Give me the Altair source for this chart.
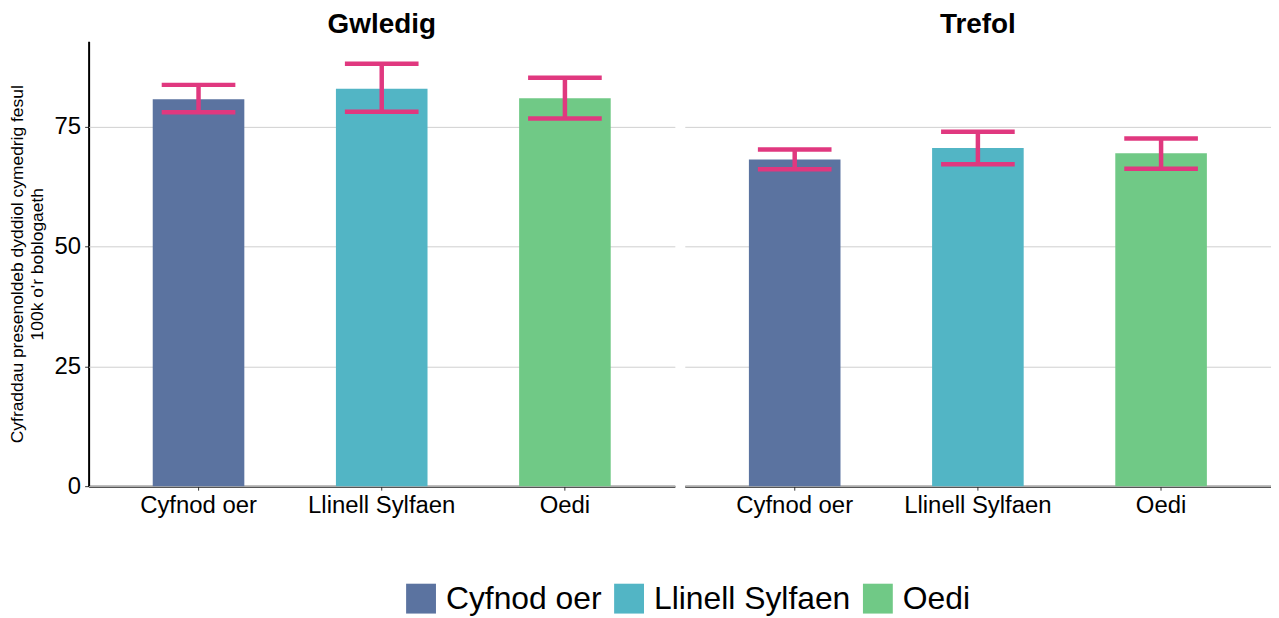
import altair as alt
import pandas as pd

regions = ["Gwledig", "Gwledig", "Gwledig", "Trefol", "Trefol", "Trefol"]
periods = ["Cyfnod oer", "Llinell Sylfaen", "Oedi", "Cyfnod oer", "Llinell Sylfaen", "Oedi"]
means = [80.8, 83.0, 81.0, 68.2, 70.6, 69.5]
lower = [78.1, 78.2, 76.8, 66.2, 67.2, 66.3]
upper = [83.8, 88.2, 85.3, 70.3, 74.0, 72.6]

period_order = ["Cyfnod oer", "Llinell Sylfaen", "Oedi"]
period_colors = ["#5B73A0", "#52B5C5", "#70C986"]
y_ticks = [0, 25, 50, 75]

df = pd.DataFrame({"region": regions, "period": periods, "mean": means,
                   "lower": lower, "upper": upper})

FONT = "Liberation Sans"
ERR = "#E0387F"

x_enc = alt.X("period:N", sort=period_order, title=None,
              scale=alt.Scale(paddingInner=0.5, paddingOuter=0.35),
              axis=alt.Axis(labelAngle=0, labelFontSize=24, labelColor="black",
                            tickSize=4, tickColor="#333333", labelPadding=3,
                            domainColor="black", domainWidth=2, grid=False))
y_scale = alt.Scale(domain=[0, 92.9], nice=False, zero=True)

bars = alt.Chart().mark_bar().encode(
    x=x_enc,
    y=alt.Y("mean:Q", scale=y_scale,
            title=["Cyfraddau presenoldeb dyddiol cymedrig fesul", "100k o'r boblogaeth"],
            axis=alt.Axis(values=y_ticks, labelFontSize=24, labelColor="black",
                          tickSize=4, tickColor="#333333", labelPadding=4,
                          domainColor="black", domainWidth=2,
                          titleFontSize=17.5, titleFontWeight="normal",
                          titleColor="black", titlePadding=8, titleLineHeight=20,
                          grid=True, gridColor="#D0D0D0", gridWidth=1)),
    color=alt.Color("period:N", sort=period_order,
                    scale=alt.Scale(domain=period_order, range=period_colors),
                    legend=alt.Legend(title=None, orient="none", direction="horizontal",
                                      legendX=318, legendY=544,
                                      symbolType="square", symbolSize=900,
                                      symbolStrokeWidth=0, symbolOpacity=1,
                                      labelFontSize=32, labelColor="black",
                                      labelLimit=0,
                                      labelOffset=9, columnPadding=11)),
)

stem = alt.Chart().mark_rule(color=ERR, strokeWidth=4.5).encode(
    x=alt.X("period:N", sort=period_order),
    y=alt.Y("lower:Q", scale=y_scale),
    y2="upper:Q",
)
cap_lo = alt.Chart().mark_tick(color=ERR, thickness=4.5, size=74, opacity=1).encode(
    x=alt.X("period:N", sort=period_order),
    y=alt.Y("lower:Q", scale=y_scale),
)
cap_hi = alt.Chart().mark_tick(color=ERR, thickness=4.5, size=74, opacity=1).encode(
    x=alt.X("period:N", sort=period_order),
    y=alt.Y("upper:Q", scale=y_scale),
)

layered = alt.layer(bars, stem, cap_lo, cap_hi).properties(width=589, height=447)

chart = layered.facet(
    data=df,
    column=alt.Column("region:N", title=None,
                      header=alt.Header(labelFontSize=28, labelFontWeight="bold",
                                        labelColor="black", labelPadding=2,
                                        labelFont=FONT)),
    spacing=10,
).properties(padding={"left": 0, "top": 2, "right": 0, "bottom": 0}
).configure(font=FONT
).configure_view(stroke=None
).configure_axis(labelFont=FONT, titleFont=FONT
).configure_legend(labelFont=FONT)

chart.save("out.html", embed_options={"renderer": "svg", "actions": False})
